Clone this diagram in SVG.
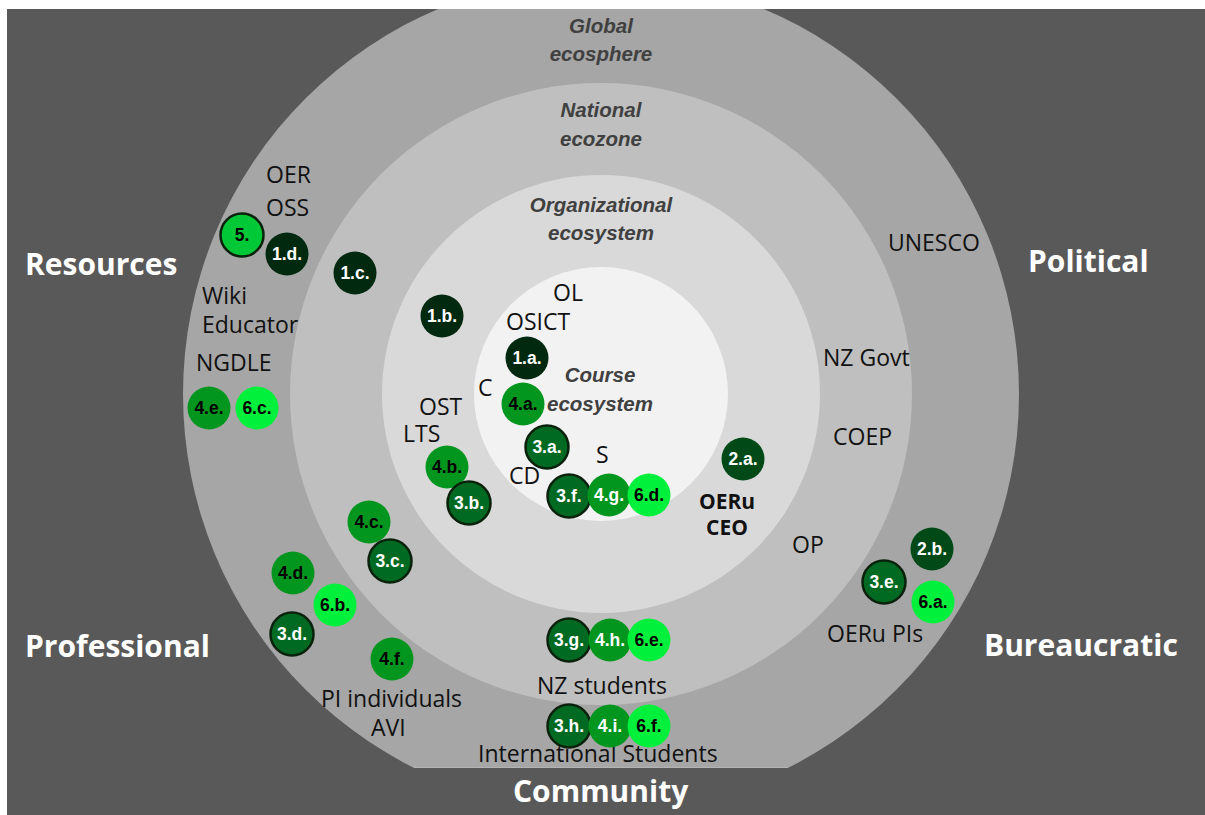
<svg xmlns="http://www.w3.org/2000/svg" width="1205" height="815" viewBox="0 0 1205 815">
  <defs>
    <clipPath id="aboveBar">
      <rect x="7" y="9" width="1198" height="759"/>
    </clipPath>
    <style>
      .bg { fill: #595959; }
      .region { font-family: "Open Sans", "Liberation Sans", sans-serif; font-weight: 700; font-size: 30px; fill: #FFFFFF; }
      .ring { font-family: "Liberation Sans", Arial, sans-serif; font-weight: 700; font-style: italic; font-size: 20.5px; fill: #404040; text-anchor: middle; }
      .lbl { font-family: "Open Sans", "Liberation Sans", sans-serif; font-size: 23px; fill: #111111; }
      .lblb { font-family: "Open Sans", "Liberation Sans", sans-serif; font-size: 21px; font-weight: 700; fill: #111111; text-anchor: middle; }
      .b { font-family: "Liberation Sans", Arial, sans-serif; font-weight: 700; font-size: 17.5px; text-anchor: middle; }
      .lt { fill: #FFFFFF; }
      .dk { fill: #000000; }
      .c1 { fill: #01290F; }
      .c2 { fill: #014A18; }
      .c3 { fill: #016A22; stroke: #0A220C; stroke-width: 2.5; }
      .c4 { fill: #03961F; }
      .c5 { fill: #00C837; stroke: #0A220C; stroke-width: 2.5; }
      .c6 { fill: #00F03C; }
    </style>
  </defs>

  <!-- backdrop -->
  <rect class="bg" x="7" y="9" width="1198" height="806"/>

  <!-- concentric ecosystem rings, cut off above the bottom band -->
  <g id="rings" clip-path="url(#aboveBar)">
    <circle cx="601" cy="394" r="418" fill="#A6A6A6"/>
    <circle cx="601" cy="394" r="311" fill="#BFBFBF"/>
    <circle cx="601" cy="394" r="219" fill="#D9D9D9"/>
    <circle cx="601" cy="394" r="127" fill="#F2F2F2"/>
  </g>
  <line x1="414" y1="767.5" x2="788" y2="767.5" stroke="#B4B4B4" stroke-width="1"/>

  <!-- ring titles -->
  <g id="ring-titles">
    <text class="ring" x="601" y="33">Global</text>
    <text class="ring" x="601" y="61">ecosphere</text>
    <text class="ring" x="601" y="117">National</text>
    <text class="ring" x="601" y="146">ecozone</text>
    <text class="ring" x="601" y="212">Organizational</text>
    <text class="ring" x="601" y="240">ecosystem</text>
    <text class="ring" x="600" y="382">Course</text>
    <text class="ring" x="600" y="411">ecosystem</text>
  </g>

  <!-- outer dimension labels -->
  <g id="regions">
    <text class="region" x="25" y="275">Resources</text>
    <text class="region" x="1028" y="272">Political</text>
    <text class="region" x="25" y="657">Professional</text>
    <text class="region" x="984" y="656">Bureaucratic</text>
    <text class="region" x="513" y="802">Community</text>
  </g>

  <!-- actor labels -->
  <g id="labels">
    <text class="lbl" x="266" y="183">OER</text>
    <text class="lbl" x="266" y="216">OSS</text>
    <text class="lbl" x="202" y="304">Wiki</text>
    <text class="lbl" x="202" y="333">Educator</text>
    <text class="lbl" x="196" y="371">NGDLE</text>
    <text class="lbl" x="419" y="415">OST</text>
    <text class="lbl" x="403" y="442">LTS</text>
    <text class="lbl" x="478" y="396">C</text>
    <text class="lbl" x="553" y="301">OL</text>
    <text class="lbl" x="506" y="330">OSICT</text>
    <text class="lbl" x="509" y="484">CD</text>
    <text class="lbl" x="596" y="463">S</text>
    <text class="lblb" x="727" y="509">OERu</text>
    <text class="lblb" x="727" y="535">CEO</text>
    <text class="lbl" x="888" y="251">UNESCO</text>
    <text class="lbl" x="823" y="366">NZ Govt</text>
    <text class="lbl" x="833" y="445">COEP</text>
    <text class="lbl" x="792" y="553">OP</text>
    <text class="lbl" x="827" y="642">OERu PIs</text>
    <text class="lbl" x="537" y="694">NZ students</text>
    <text class="lbl" x="478" y="762">International Students</text>
    <text class="lbl" x="321" y="707">PI individuals</text>
    <text class="lbl" x="371" y="736">AVI</text>
  </g>

  <!-- numbered markers -->
  <g id="n-5"><circle class="c5" cx="242" cy="235" r="21.5"/><text class="b dk" x="242" y="241">5.</text></g>
  <g id="n-1d"><circle class="c1" cx="287" cy="254" r="21.5"/><text class="b lt" x="287" y="260">1.d.</text></g>
  <g id="n-1c"><circle class="c1" cx="355" cy="273" r="21.5"/><text class="b lt" x="355" y="279">1.c.</text></g>
  <g id="n-1b"><circle class="c1" cx="442" cy="316" r="21.5"/><text class="b lt" x="442" y="322">1.b.</text></g>
  <g id="n-1a"><circle class="c1" cx="527" cy="358" r="21.5"/><text class="b lt" x="527" y="364">1.a.</text></g>
  <g id="n-4a"><circle class="c4" cx="523" cy="404" r="21.5"/><text class="b dk" x="523" y="410">4.a.</text></g>
  <g id="n-3a"><circle class="c3" cx="547" cy="447" r="21.5"/><text class="b lt" x="547" y="453">3.a.</text></g>
  <g id="n-3f"><circle class="c3" cx="569" cy="496" r="21.5"/><text class="b lt" x="569" y="502">3.f.</text></g>
  <g id="n-4g"><circle class="c4" cx="609" cy="495" r="21.5"/><text class="b lt" x="609" y="501">4.g.</text></g>
  <g id="n-6d"><circle class="c6" cx="649" cy="495" r="21.5"/><text class="b dk" x="649" y="501">6.d.</text></g>
  <g id="n-2a"><circle class="c2" cx="743" cy="459" r="21.5"/><text class="b lt" x="743" y="465">2.a.</text></g>
  <g id="n-2b"><circle class="c2" cx="932" cy="549" r="21.5"/><text class="b lt" x="932" y="555">2.b.</text></g>
  <g id="n-3e"><circle class="c3" cx="884" cy="582" r="21.5"/><text class="b lt" x="884" y="588">3.e.</text></g>
  <g id="n-6a"><circle class="c6" cx="933" cy="602" r="21.5"/><text class="b dk" x="933" y="608">6.a.</text></g>
  <g id="n-4e"><circle class="c4" cx="209" cy="408" r="21.5"/><text class="b dk" x="209" y="414">4.e.</text></g>
  <g id="n-6c"><circle class="c6" cx="257" cy="408" r="21.5"/><text class="b dk" x="257" y="414">6.c.</text></g>
  <g id="n-4b"><circle class="c4" cx="447" cy="467" r="21.5"/><text class="b dk" x="447" y="473">4.b.</text></g>
  <g id="n-3b"><circle class="c3" cx="469" cy="503" r="21.5"/><text class="b lt" x="469" y="509">3.b.</text></g>
  <g id="n-4c"><circle class="c4" cx="369" cy="522" r="21.5"/><text class="b dk" x="369" y="528">4.c.</text></g>
  <g id="n-3c"><circle class="c3" cx="390" cy="561" r="21.5"/><text class="b lt" x="390" y="567">3.c.</text></g>
  <g id="n-4d"><circle class="c4" cx="293" cy="573" r="21.5"/><text class="b dk" x="293" y="579">4.d.</text></g>
  <g id="n-6b"><circle class="c6" cx="335" cy="605" r="21.5"/><text class="b dk" x="335" y="611">6.b.</text></g>
  <g id="n-3d"><circle class="c3" cx="292" cy="634" r="21.5"/><text class="b lt" x="292" y="640">3.d.</text></g>
  <g id="n-4f"><circle class="c4" cx="392" cy="659" r="21.5"/><text class="b dk" x="392" y="665">4.f.</text></g>
  <g id="n-3g"><circle class="c3" cx="569" cy="640" r="21.5"/><text class="b lt" x="569" y="646">3.g.</text></g>
  <g id="n-4h"><circle class="c4" cx="610" cy="640" r="21.5"/><text class="b lt" x="610" y="646">4.h.</text></g>
  <g id="n-6e"><circle class="c6" cx="649" cy="640" r="21.5"/><text class="b dk" x="649" y="646">6.e.</text></g>
  <g id="n-3h"><circle class="c3" cx="569" cy="726" r="21.5"/><text class="b lt" x="569" y="732">3.h.</text></g>
  <g id="n-4i"><circle class="c4" cx="610" cy="726" r="21.5"/><text class="b lt" x="610" y="732">4.i.</text></g>
  <g id="n-6f"><circle class="c6" cx="649" cy="726" r="21.5"/><text class="b dk" x="649" y="732">6.f.</text></g>
</svg>
